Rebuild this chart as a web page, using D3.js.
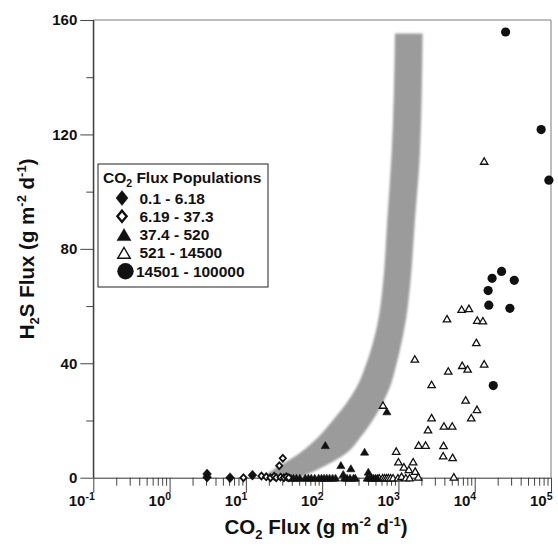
<!DOCTYPE html>
<html><head><meta charset="utf-8">
<script src="https://cdn.jsdelivr.net/npm/d3@7"></script>
<style>
body{margin:0;background:#fff}
text{font-family:"Liberation Sans",Arial,Helvetica,sans-serif;font-weight:bold;fill:#111}
</style>
</head><body>
<svg id="chart" width="558" height="550"></svg>
<script>
// ---------------- data ----------------
const legendLabels = ["0.1 - 6.18", "6.19 - 37.3", "37.4 - 520", "521 - 14500", "14501 - 100000"];

// [CO2 flux, H2S flux]
const pop1 = [[3.1,0.2],[3.1,1.3],[6.2,0],[12.2,0.9]];
const pop2 = [[9.3,0],[16,0.6],[18.5,0.3],[21,0],[23.5,0.5],[25,0],[27.4,4.2],[30.5,6.8],[28.5,0.2],[31.5,0],[34,0.3],[36.5,0]];
const pop3 = [[39,0],[42,0],[46,0],[51,0],[60,0],[66,0],[72,0],[80,0],[90,0],[98,0],[106,0],[115,0],[125,0],[137,0],[150,0],
  [110,11.4],[176,4.4],[189,1.3],[196,0],[212,0],[238,3.3],[232,0],[258,0],[272,0],[360,9.1],[403,2.1],[390,0],[420,0],
  [445,0],[470,0],[500,0],[530,0],[706,23.2]];
const pop4 = [[560,0],[620,0],[660,0],[700,0],[740,0],[790,0],[850,0],[627,25.4],[935,9.3],[1000,5.6],[985,0],[1100,0.5],
  [1180,3.8],[1250,0],[1370,2.9],[1400,0],[1560,5.6],[1660,2.3],[1820,0.3],[1840,11.4],[2270,11.4],[2440,16.8],[2720,21.0],
  [2720,32.6],[1640,41.5],[3900,11.3],[3860,7.7],[5130,7.1],[3950,18.1],[5070,18.1],[4330,55.6],[4500,37.3],[5330,0.3],
  [6730,58.9],[8400,59.2],[10800,55.1],[12800,54.9],[10500,47.3],[6860,39.3],[8070,38.0],[13300,39.8],[7600,27.2],
  [10700,23.9],[9000,21.0],[13300,110.7]];
const pop5 = [[25400,155.8],[74300,121.7],[93800,104],[22500,72.1],[16900,69.7],[33000,69.0],[15000,65.4],[15300,60.3],
  [28900,59.2],[17500,32.2]];

// grey envelope band: H2S value, left (low CO2) edge, right (high CO2) edge
const bandH  = [0, 2.7, 8.6, 14.2, 20.2, 26.1, 31.7, 37.6, 43.6, 55.1, 66.7, 90, 113.5, 155.3];
const bandLo = [16, 22.6, 51, 89, 139, 209, 283, 353, 423, 543, 621, 713, 815, 900];
const bandHi = [51, 85, 209, 320, 463, 621, 774, 900, 1024, 1253, 1416, 1645, 1913, 2075];

const xExponents = [-1, 0, 1, 2, 3, 4, 5];
const yTicks = [0, 40, 80, 120, 160];
const yMinorTicks = [20, 60, 100, 140];

// ---------------- layout ----------------
const svg = d3.select("#chart");
const L = 93.3, R = 551, T = 20, B = 477.7;
const x = d3.scaleLog().domain([0.1, 1e5]).range([L, R]);
const y = d3.scaleLinear().domain([0, 160]).range([B, T]);

// band
const bandData = bandH.map((h, i) => ({h, lo: bandLo[i], hi: bandHi[i]}));
const defs = svg.append("defs");
defs.append("filter").attr("id", "soft").append("feGaussianBlur").attr("stdDeviation", 0.9);
defs.append("clipPath").attr("id", "plotclip").append("rect")
  .attr("x", L).attr("y", T).attr("width", R - L).attr("height", B - T);
svg.append("path")
  .datum(bandData)
  .attr("d", d3.area().y(d => y(d.h)).x0(d => x(d.lo)).x1(d => x(d.hi)).curve(d3.curveMonotoneY))
  .attr("fill", "#9b9b9b")
  .attr("filter", "url(#soft)")
  .attr("clip-path", "url(#plotclip)");

// frame (top / right)
svg.append("line").attr("x1", L).attr("x2", R).attr("y1", T).attr("y2", T).attr("stroke", "#7a7a7a").attr("stroke-width", 1);
svg.append("line").attr("x1", R).attr("x2", R).attr("y1", T).attr("y2", B).attr("stroke", "#7a7a7a").attr("stroke-width", 1);

// x axis: minor + major ticks
const minorX = [];
for (let e = -1; e < 5; e++) for (let k = 2; k <= 9; k++) minorX.push(k * Math.pow(10, e));
const gxMinor = svg.append("g").attr("transform", `translate(0,${B})`)
  .call(d3.axisBottom(x).tickValues(minorX).tickSize(8).tickSizeOuter(0).tickFormat(""));
gxMinor.select(".domain").remove();
const gxMajor = svg.append("g").attr("transform", `translate(0,${B})`)
  .call(d3.axisBottom(x).tickValues(xExponents.map(e => Math.pow(10, e))).tickSize(15).tickSizeOuter(0).tickFormat(""));
gxMajor.select(".domain").attr("stroke", "#333");
svg.selectAll(".tick line").attr("stroke", "#444");

// x tick labels 10^e
const xl = svg.append("g");
xExponents.forEach(e => {
  const t = xl.append("text").attr("x", x(Math.pow(10, e)) + 1.5).attr("y", 506)
    .attr("text-anchor", "end").style("font-size", "15px");
  t.append("tspan").text("10");
  t.append("tspan").attr("dy", -6).style("font-size", "10.5px").text(String(e));
});

// y axis
const gy = svg.append("g").attr("transform", `translate(${L},0)`)
  .call(d3.axisLeft(y).tickValues(yTicks).tickSize(13).tickSizeOuter(0).tickPadding(3));
gy.select(".domain").attr("stroke", "#333");
gy.selectAll(".tick line").attr("stroke", "#444");
gy.selectAll(".tick text").style("font-size", "15px").style("font-family", '"Liberation Sans",Arial,sans-serif').style("font-weight", "bold").attr("fill", "#111");
const gyMinor = svg.append("g").attr("transform", `translate(${L},0)`)
  .call(d3.axisLeft(y).tickValues(yMinorTicks).tickSize(7).tickSizeOuter(0).tickFormat(""));
gyMinor.select(".domain").remove();
gyMinor.selectAll(".tick line").attr("stroke", "#444");
svg.append("line").attr("x1", L).attr("x2", L).attr("y1", T).attr("y2", B).attr("stroke", "#333");

// ---------------- symbols ----------------
const diamond = (w, h) => `M0,${-h}L${w},0L0,${h}L${-w},0Z`;
const triangle = (w, h) => `M0,${-h}L${w},${h}L${-w},${h}Z`;

const pts = svg.append("g");
function plot(data, pathStr, fill, stroke, sw) {
  pts.append("g").selectAll("path").data(data).join("path")
    .attr("transform", d => `translate(${x(d[0])},${y(d[1])})`)
    .attr("d", pathStr)
    .attr("fill", fill).attr("stroke", stroke).attr("stroke-width", sw)
    .attr("stroke-linejoin", "miter");
}
plot(pop4, triangle(3.7, 3.2), "#fff", "#111", 1.3);
plot(pop3, triangle(4.1, 3.5), "#111", "#111", 0.6);
plot(pop2, diamond(3.1, 3.4), "#fff", "#111", 1.8);
plot(pop1, diamond(4.4, 5), "#111", "#111", 0.5);
pts.append("g").selectAll("circle").data(pop5).join("circle")
  .attr("cx", d => x(d[0])).attr("cy", d => y(d[1])).attr("r", 4.6).attr("fill", "#111");

// ---------------- legend ----------------
const lg = svg.append("g");
lg.append("rect").attr("x", 98).attr("y", 164).attr("width", 170).attr("height", 123)
  .attr("fill", "#fff").attr("stroke", "#222").attr("stroke-width", 1);
const lt = lg.append("text").attr("x", 103).attr("y", 183).style("font-size", "15.5px");
lt.append("tspan").text("CO");
lt.append("tspan").attr("dy", 4).style("font-size", "10.5px").text("2");
lt.append("tspan").attr("dy", -4).text(" Flux Populations");

const rowY = i => 198 + i * 18.3;
const legendSyms = [
  {d: diamond(6, 7.5), fill: "#111", sw: 0.5, cx: 122},
  {d: diamond(4.6, 5.6), fill: "#fff", sw: 2.4, cx: 122},
  {d: triangle(7, 6), fill: "#111", sw: 0.5, cx: 124},
  {d: triangle(6.3, 5.4), fill: "#fff", sw: 1.4, cx: 124},
  null
];
legendLabels.forEach((lab, i) => {
  const s = legendSyms[i];
  if (s) {
    lg.append("path").attr("transform", `translate(${s.cx},${rowY(i)})`).attr("d", s.d)
      .attr("fill", s.fill).attr("stroke", "#111").attr("stroke-width", s.sw);
  } else {
    lg.append("circle").attr("cx", 125.5).attr("cy", rowY(i)).attr("r", 8.2).attr("fill", "#111");
  }
  lg.append("text").attr("x", i === 4 ? 136 : 139.5).attr("y", rowY(i) + 5.5)
    .style("font-size", "15.5px").text(lab);
});

// ---------------- axis titles ----------------
const xt = svg.append("text").attr("x", 316).attr("y", 534).attr("text-anchor", "middle").style("font-size", "20.5px");
xt.append("tspan").text("CO");
xt.append("tspan").attr("dy", 5).style("font-size", "13px").text("2");
xt.append("tspan").attr("dy", -5).text(" Flux (g m");
xt.append("tspan").attr("dy", -8).style("font-size", "13px").text("-2");
xt.append("tspan").attr("dy", 8).text(" d");
xt.append("tspan").attr("dy", -8).style("font-size", "13px").text("-1");
xt.append("tspan").attr("dy", 8).text(")");

const yt = svg.append("text").attr("transform", `translate(34,${(T + B) / 2}) rotate(-90)`)
  .attr("text-anchor", "middle").style("font-size", "20.5px");
yt.append("tspan").text("H");
yt.append("tspan").attr("dy", 5).style("font-size", "13px").text("2");
yt.append("tspan").attr("dy", -5).text("S Flux (g m");
yt.append("tspan").attr("dy", -8).style("font-size", "13px").text("-2");
yt.append("tspan").attr("dy", 8).text(" d");
yt.append("tspan").attr("dy", -8).style("font-size", "13px").text("-1");
yt.append("tspan").attr("dy", 8).text(")");
</script>
</body></html>
